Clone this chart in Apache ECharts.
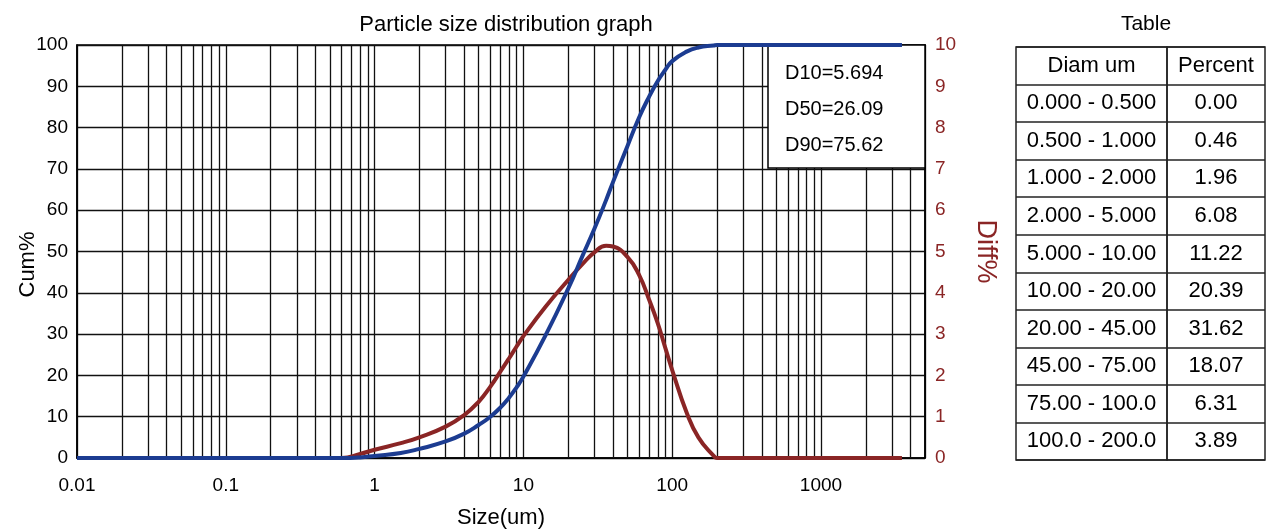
<!DOCTYPE html>
<html>
<head>
<meta charset="utf-8">
<title>Particle size distribution graph</title>
<script src="https://cdn.jsdelivr.net/npm/echarts@6/dist/echarts.min.js"></script>
<style>
html, body { margin: 0; padding: 0; background: #fff; }
#chart { width: 1266px; height: 530px; }
</style>
</head>
<body>
<div id="chart"></div>
<script>
// curve values (size in um)
const sizes = [0.01, 0.1, 0.5, 0.6, 0.8, 1, 1.5, 2, 3, 4, 5, 6, 7, 8, 9, 10, 14, 20, 25, 30, 36, 40, 50, 60, 70, 80, 90, 100, 125, 150, 190, 200, 300, 1000, 3500]
const cumPercent = [0, 0, 0, 0, 0.15, 0.5, 1.2, 2.2, 4.0, 5.9, 8.0, 10.0, 12.2, 14.6, 17.1, 19.7, 29.5, 41.0, 49.0, 55.5, 62.5, 66.8, 75.5, 82.5, 87.5, 91.3, 94.0, 96.1, 98.4, 99.4, 99.9, 100, 100, 100, 100]
const diffPercent = [0, 0, 0, 0, 0.1, 0.2, 0.36, 0.5, 0.76, 1.04, 1.36, 1.73, 2.09, 2.41, 2.7, 2.95, 3.65, 4.31, 4.7, 4.98, 5.14, 5.12, 4.87, 4.43, 3.83, 3.26, 2.66, 2.13, 1.1, 0.5, 0.05, 0, 0, 0, 0]

const xTickLabels = ['0.01', '0.1', '1', '10', '100', '1000']
const dStats = ['D10=5.694', 'D50=26.09', 'D90=75.62']

// table on the right
const tableHeader = ['Diam um', 'Percent']
const diamRanges = ['0.000 - 0.500', '0.500 - 1.000', '1.000 - 2.000', '2.000 - 5.000', '5.000 - 10.00',
  '10.00 - 20.00', '20.00 - 45.00', '45.00 - 75.00', '75.00 - 100.0', '100.0 - 200.0']
const percents = [0.00, 0.46, 1.96, 6.08, 11.22, 20.39, 31.62, 18.07, 6.31, 3.89]

const blue = '#1c3c91'
const red = '#8a2525'
const ink = '#000'
const font = 'Arial, "Liberation Sans", sans-serif'

// log grid lines between decades (2..9 of each decade)
const minorGrid = []
for (const d of [0.01, 0.1, 1, 10, 100, 1000]) {
  for (let k = 2; k <= 9; k++) {
    if (d * k < 5000) minorGrid.push(+(d * k).toPrecision(3))
  }
}

const col1 = [tableHeader[0]].concat(diamRanges)
const col2 = [tableHeader[1]].concat(percents.map(v => v.toFixed(2)))
const rowIds = col1.map((t, i) => String(i))

const tableYAxis = (gi) => ({
  type: 'category', gridIndex: gi, data: rowIds, inverse: true,
  axisLine: { show: false }, axisTick: { show: false },
  axisLabel: { show: false, interval: 0 },
  splitLine: { show: true, interval: 0, lineStyle: { color: '#222', width: 1.5 } }
})

const tableSeries = (xi, yi, texts) => ({
  type: 'scatter', xAxisIndex: xi, yAxisIndex: yi, symbolSize: 0, silent: true,
  data: texts.map((t, i) => [0, String(i)]),
  label: {
    show: true, position: 'inside', fontSize: 22, color: ink, opacity: 1, fontFamily: font,
    formatter: p => texts[p.dataIndex]
  }
})

const chart = echarts.init(document.getElementById('chart'))

const option = {
  animation: false,
  backgroundColor: '#fff',
  textStyle: { fontFamily: font },
  title: [
    {
      text: 'Particle size distribution graph', left: 501, top: 9, textAlign: 'center',
      textStyle: { fontSize: 22, fontWeight: 'normal', color: ink, fontFamily: font }
    },
    {
      text: 'Table', left: 1141, top: 9, textAlign: 'center',
      textStyle: { fontSize: 21, fontWeight: 'normal', color: ink, fontFamily: font }
    }
  ],
  grid: [
    { left: 77, top: 45, width: 848, height: 413, show: true, borderColor: ink, borderWidth: 1.5, backgroundColor: '#fff', containLabel: false, outerBoundsMode: 'none' },
    { left: 1016, top: 47, width: 151, height: 413, show: true, borderColor: '#222', borderWidth: 1.5, containLabel: false, outerBoundsMode: 'none' },
    { left: 1167, top: 47, width: 98, height: 413, show: true, borderColor: '#222', borderWidth: 1.5, containLabel: false, outerBoundsMode: 'none' }
  ],
  xAxis: [
    {
      type: 'log', gridIndex: 0, logBase: 10, min: 0.01, max: 5000,
      axisLine: { show: true, lineStyle: { color: ink, width: 1.5 } },
      axisTick: { show: false },
      axisLabel: {
        fontSize: 19, color: ink, margin: 18,
        formatter: v => {
          const s = String(+(+v).toPrecision(6))
          return xTickLabels.includes(s) ? s : ''
        }
      },
      splitLine: { show: true, lineStyle: { color: '#111', width: 1.3 } },
      name: 'Size(um)', nameLocation: 'middle', nameGap: 49, nameMoveOverlap: false,
      nameTextStyle: { fontSize: 22, color: ink }
    },
    { type: 'value', gridIndex: 1, min: -1, max: 1, show: false },
    { type: 'value', gridIndex: 2, min: -1, max: 1, show: false }
  ],
  yAxis: [
    {
      type: 'value', gridIndex: 0, min: 0, max: 100, interval: 10,
      axisLine: { show: true, lineStyle: { color: ink, width: 1.5 } },
      axisTick: { show: false },
      axisLabel: { fontSize: 19, color: ink, margin: 9 },
      splitLine: { show: true, lineStyle: { color: '#111', width: 1.3 } },
      name: 'Cum%', nameLocation: 'middle', nameGap: 38, nameMoveOverlap: false,
      nameTextStyle: { fontSize: 22, color: ink, padding: [0, 26, 0, 0] }
    },
    {
      type: 'value', gridIndex: 0, position: 'right', min: 0, max: 10, interval: 1,
      axisLine: { show: true, lineStyle: { color: ink, width: 1.5 } },
      axisTick: { show: false },
      axisLabel: { fontSize: 19, color: red, margin: 10 },
      splitLine: { show: false },
      name: 'Diff%', nameLocation: 'middle', nameGap: 47, nameRotate: -90, nameMoveOverlap: false,
      nameTextStyle: { fontSize: 27, color: red }
    },
    tableYAxis(1),
    tableYAxis(2)
  ],
  graphic: [
    {
      type: 'rect', z: 2, silent: true,
      shape: { x: 768, y: 45, width: 157, height: 123 },
      style: { fill: '#fff', stroke: ink, lineWidth: 1.5 }
    },
    ...dStats.map((t, i) => ({
      type: 'text', z: 3, silent: true, x: 785, y: 73 + i * 36,
      style: { text: t, fontSize: 20, fontFamily: font, fill: ink, verticalAlign: 'middle' }
    }))
  ],
  series: [
    {
      type: 'line', name: 'grid', xAxisIndex: 0, yAxisIndex: 0, data: [], z: 1, silent: true,
      markLine: {
        silent: true, z: 1, symbol: 'none', animation: false,
        label: { show: false },
        lineStyle: { color: '#111', width: 1.3, type: 'solid' },
        data: minorGrid.map(v => ({ xAxis: v }))
      }
    },
    {
      type: 'line', name: 'Diff%', xAxisIndex: 0, yAxisIndex: 1, z: 4,
      data: sizes.map((s, i) => [s, diffPercent[i]]),
      smooth: 0.5, showSymbol: false, symbol: 'none',
      lineStyle: { color: red, width: 4 }
    },
    {
      type: 'line', name: 'Cum%', xAxisIndex: 0, yAxisIndex: 0, z: 5,
      data: sizes.map((s, i) => [s, cumPercent[i]]),
      smooth: 0.5, showSymbol: false, symbol: 'none',
      lineStyle: { color: blue, width: 4 }
    },
    tableSeries(1, 2, col1),
    tableSeries(2, 3, col2)
  ]
}

chart.setOption(option)
</script>
</body>
</html>
